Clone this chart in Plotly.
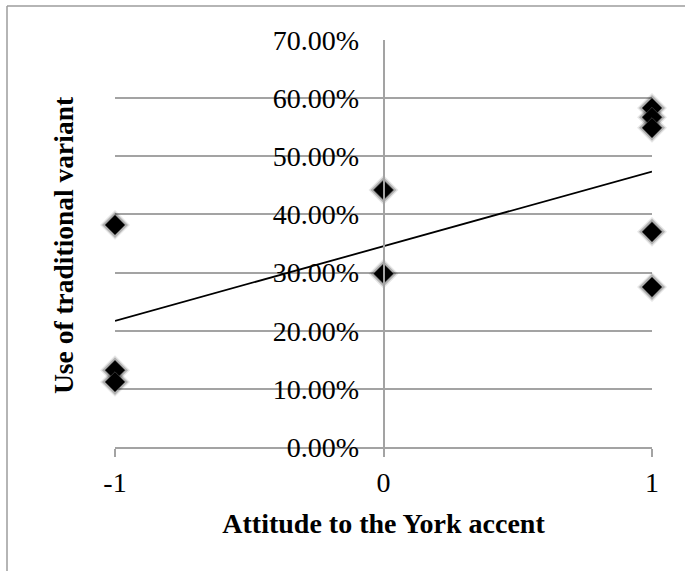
import numpy as np
import plotly.graph_objects as go

# Attitude score (-1 negative, 0 neutral, 1 positive) and share of traditional variant
attitude = [-1, -1, -1, 0, 0, 1, 1, 1, 1, 1]
traditional_use = [0.382, 0.132, 0.112, 0.442, 0.298, 0.583, 0.567, 0.549, 0.370, 0.275]

x_tick_vals = [-1, 0, 1]
x_tick_text = ["-1", "0", "1"]
y_tick_vals = [0.0, 0.1, 0.2, 0.3, 0.4, 0.5, 0.6, 0.7]

x_title = "Attitude to the York accent"
y_title = "Use of traditional variant"

GRID = "#a3a3a3"
FONT = "Liberation Serif"
FS = 28

# Linear least-squares trend line
slope, intercept = np.polyfit(attitude, traditional_use, 1)
trend_x = [min(x_tick_vals), max(x_tick_vals)]
trend_y = [slope * v + intercept for v in trend_x]

fig = go.Figure()

# soft drop shadow behind each diamond
for size, col in [(23, "rgba(0,0,0,0.10)"), (20, "rgba(0,0,0,0.22)")]:
    fig.add_trace(go.Scatter(
        x=attitude, y=traditional_use, mode="markers",
        marker=dict(symbol="diamond", size=size, color=col, line=dict(width=0)),
        cliponaxis=False, hoverinfo="skip", showlegend=False,
    ))

fig.add_trace(go.Scatter(
    x=attitude, y=traditional_use, mode="markers",
    marker=dict(symbol="diamond", size=15.5, color="black",
                line=dict(width=0.6, color="#555555")),
    cliponaxis=False, showlegend=False,
))

fig.add_trace(go.Scatter(
    x=trend_x, y=trend_y, mode="lines",
    line=dict(color="black", width=1.8),
    cliponaxis=False, showlegend=False, hoverinfo="skip",
))

# chart frame: only its top and left edges fall inside the page
frame_x = (7 - 115) / 537
frame_y = (447 - 6) / 407
FRAME = "#9c9c9c"

fig.update_layout(
    width=685, height=571,
    margin=dict(l=115, r=33, t=40, b=124),
    paper_bgcolor="white", plot_bgcolor="white",
    font=dict(family=FONT, size=FS, color="black"),
    showlegend=False,
    xaxis=dict(
        range=[-1, 1], tickvals=x_tick_vals, ticktext=x_tick_text,
        showgrid=False, zeroline=False,
        showline=True, linecolor=GRID, linewidth=1.5,
        ticks="outside", ticklen=8, tickcolor=GRID, tickwidth=1.5,
        ticklabelstandoff=2,
        tickfont=dict(family=FONT, size=FS),
        title=dict(text="<b>" + x_title + "</b>", font=dict(family=FONT, size=FS), standoff=16),
    ),
    yaxis=dict(
        range=[0, 0.7], tickvals=y_tick_vals, tickformat=".2%",
        anchor="free", position=0.5,
        showgrid=True, gridcolor=GRID, gridwidth=1.5, zeroline=False,
        showline=True, linecolor=GRID, linewidth=1.5,
        ticks="", ticklabelstandoff=18,
        tickfont=dict(family=FONT, size=FS),
    ),
    annotations=[dict(
        text="<b>" + y_title + "</b>", textangle=-90,
        xref="paper", yref="paper", x=(63 - 115) / 537, y=(447 - 245) / 407,
        xanchor="center", yanchor="middle", showarrow=False,
        font=dict(family=FONT, size=FS - 0.5, color="black"),
    )],
    shapes=[
        dict(type="line", xref="paper", yref="paper",
             x0=frame_x, x1=1.3, y0=frame_y, y1=frame_y,
             line=dict(color=FRAME, width=1.5)),
        dict(type="line", xref="paper", yref="paper",
             x0=frame_x, x1=frame_x, y0=frame_y, y1=-0.5,
             line=dict(color=FRAME, width=1.5)),
    ],
)

fig.write_html("out.html")
